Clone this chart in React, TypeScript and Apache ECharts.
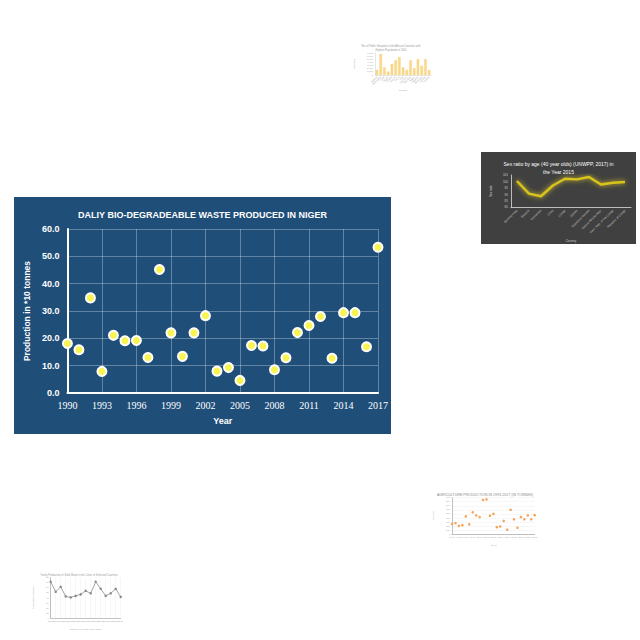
import React, { useEffect, useRef } from "react";
import * as echarts from "echarts";

// ---------- Main chart data ----------
const years = [
  "1990", "1991", "1992", "1993", "1994", "1995", "1996", "1997", "1998", "1999",
  "2000", "2001", "2002", "2003", "2004", "2005", "2006", "2007", "2008", "2009",
  "2010", "2011", "2012", "2013", "2014", "2015", "2016", "2017",
];
const production = [
  18.1, 15.8, 34.8, 7.9, 21.1, 19.1, 19.2, 13.0, 45.2, 22.0,
  13.4, 22.0, 28.3, 8.0, 9.3, 4.6, 17.4, 17.2, 8.5, 12.9,
  22.1, 24.7, 28.0, 12.7, 29.4, 29.4, 16.9, 53.3,
];

// ---------- Thumbnail 1 (bar) ----------
const t1Cats = ["Algeria", "Botswana", "Chad", "Egypt", "Ghana", "Kenya", "Libya", "Mali", "Morocco", "Namibia", "Niger", "Nigeria", "Senegal", "Sudan", "Tunisia"];
const t1Values = [1600, 6700, 2400, 1100, 3550, 4700, 5700, 2400, 1600, 4650, 2150, 5050, 2900, 5050, 1600];

// ---------- Thumbnail 2 (sex ratio line) ----------
const t2Cats = ["Burkina Faso", "Burundi", "Cameroon", "Chad", "Congo", "Gabon", "Equatorial Guinea", "Central African Rep.", "Dem. Rep. of the Congo", "Republic of Congo"];
const t2Values = [100.3, 90.5, 88.4, 96.8, 102.1, 101.6, 103.4, 97.6, 98.9, 99.5];

// ---------- Thumbnail 3 (scatter) ----------
const t3Cats = ["1993", "1994", "1995", "1996", "1997", "1998", "1999", "2000", "2001", "2002", "2003", "2004", "2005", "2006", "2007", "2008", "2009", "2010", "2011", "2012", "2013", "2014", "2015", "2016", "2017"];
const t3Values = [250, 273, 203, 219, 438, 242, 539, 461, 422, 844, 859, 453, 500, 172, 188, 328, 109, 602, 367, 156, 422, 367, 461, 367, 469];

// ---------- Thumbnail 4 (line) ----------
const t4Cats = ["2003", "2004", "2005", "2006", "2007", "2008", "2009", "2010", "2011", "2012", "2013", "2014", "2015", "2016", "2017"];
const t4Values = [72, 52, 62, 43, 41, 44, 47, 54, 49, 72, 58, 44, 49, 58, 42];

const mainOption = {
  animation: false,
  backgroundColor: "#1f4e79",
  textStyle: { fontFamily: "Liberation Sans" },
  title: {
    text: "DALIY BIO-DEGRADEABLE WASTE PRODUCED IN NIGER",
    left: "center",
    top: 8,
    textStyle: { color: "#ffffff", fontSize: 9, fontWeight: "bold", fontFamily: "Liberation Sans" },
  },
  grid: { left: 51, right: 13, top: 32, bottom: 41 },
  xAxis: {
    type: "category",
    data: years,
    boundaryGap: false,
    name: "Year",
    nameLocation: "middle",
    nameGap: 23,
    nameTextStyle: { color: "#ffffff", fontSize: 9, fontWeight: "bold" },
    axisLine: { show: true, lineStyle: { color: "#ffffff", width: 2 } },
    axisTick: { show: false },
    axisLabel: { interval: 2, color: "#ffffff", fontSize: 10, fontFamily: "Liberation Serif", margin: 7 },
    splitLine: { show: true, interval: 2, lineStyle: { color: "rgba(255,255,255,0.3)", width: 1 } },
  },
  yAxis: {
    type: "value",
    min: 0,
    max: 60,
    interval: 10,
    name: "Production in *10 tonnes",
    nameLocation: "middle",
    nameGap: 34,
    nameTextStyle: { color: "#ffffff", fontSize: 8.5, fontWeight: "bold" },
    axisLine: { show: true, lineStyle: { color: "#ffffff", width: 2 } },
    axisTick: { show: false },
    axisLabel: { color: "#ffffff", fontSize: 9, fontWeight: "bold", margin: 8, formatter: (v: number) => v.toFixed(1) },
    splitLine: { show: true, lineStyle: { color: "rgba(255,255,255,0.3)", width: 1 } },
  },
  series: [
    {
      type: "scatter",
      data: production,
      symbol: "circle",
      symbolSize: 9,
      clip: false,
      itemStyle: { color: "#f8f452", borderColor: "#ffffff", borderWidth: 2, opacity: 1 },
    },
  ],
};

const tinyAxisText = { color: "#aaaaaa", fontSize: 2.5 };

const t1Option = {
  animation: false,
  backgroundColor: "#ffffff",
  textStyle: { fontFamily: "Liberation Sans" },
  title: {
    text: "No. of Public Hospitals in the African Countries with\nHighest Population in 2010",
    left: "center",
    top: 2,
    textStyle: { color: "#999999", fontSize: 2.6, fontWeight: "normal", lineHeight: 3.5 },
  },
  grid: { left: 14, right: 6, top: 15, bottom: 21 },
  xAxis: {
    type: "category",
    data: t1Cats,
    name: "Country",
    nameLocation: "middle",
    nameGap: 13,
    nameTextStyle: tinyAxisText,
    axisLine: { lineStyle: { color: "#cccccc", width: 0.5 } },
    axisTick: { show: false },
    axisLabel: { ...tinyAxisText, rotate: 45, interval: 0, margin: 2 },
  },
  yAxis: {
    type: "value",
    min: 0,
    max: 7000,
    interval: 1000,
    name: "Hospitals",
    nameLocation: "middle",
    nameGap: 10,
    nameTextStyle: tinyAxisText,
    axisLine: { show: true, lineStyle: { color: "#cccccc", width: 0.5 } },
    axisLabel: { ...tinyAxisText, margin: 2 },
    splitLine: { show: false },
  },
  series: [
    {
      type: "bar",
      data: t1Values,
      barWidth: "65%",
      itemStyle: { color: "rgba(250,210,120,0.85)", borderColor: "#f2c45a", borderWidth: 0.3 },
    },
  ],
};

const t2Option = {
  animation: false,
  backgroundColor: "#404040",
  textStyle: { fontFamily: "Liberation Sans" },
  title: {
    text: "Sex ratio by age (40 year olds) (UNWPP, 2017) in\nthe Year 2015",
    left: "center",
    top: 3,
    textStyle: { color: "#ffffff", fontSize: 5, fontWeight: "normal", lineHeight: 8 },
  },
  grid: { left: 19, right: 5, top: 23, bottom: 37 },
  xAxis: {
    type: "category",
    data: t2Cats,
    boundaryGap: true,
    name: "Country",
    nameLocation: "middle",
    nameGap: 32,
    nameTextStyle: { color: "#cccccc", fontSize: 3 },
    axisLine: { lineStyle: { color: "#dddddd", width: 0.8 } },
    axisTick: { show: false },
    axisLabel: { color: "#cccccc", fontSize: 3, rotate: 45, interval: 0, margin: 3 },
  },
  yAxis: {
    type: "value",
    min: 80,
    max: 105,
    interval: 5,
    name: "Sex ratio",
    nameLocation: "middle",
    nameGap: 10,
    nameTextStyle: { color: "#cccccc", fontSize: 3 },
    axisLine: { show: true, lineStyle: { color: "#dddddd", width: 0.8 } },
    axisTick: { show: false },
    axisLabel: { color: "#cccccc", fontSize: 3, margin: 3 },
    splitLine: { show: false },
  },
  series: [
    {
      type: "line",
      data: t2Values,
      showSymbol: false,
      lineStyle: { color: "#d8c41a", width: 2.4, shadowColor: "rgba(230,210,40,0.9)", shadowBlur: 5 },
    },
  ],
};

const t3Option = {
  animation: false,
  backgroundColor: "#ffffff",
  textStyle: { fontFamily: "Liberation Sans" },
  title: {
    text: "AGRICULTURE PRODUCTION IN 1993-2017 (IN TONNES)",
    left: "center",
    top: 2,
    textStyle: { color: "#8a8a8a", fontSize: 3.6, fontWeight: "normal" },
  },
  grid: { left: 12.7, right: 11.3, top: 11.7, bottom: 12.7 },
  xAxis: {
    type: "category",
    data: t3Cats,
    boundaryGap: false,
    name: "YEAR",
    nameLocation: "middle",
    nameGap: 7,
    nameTextStyle: tinyAxisText,
    axisLine: { lineStyle: { color: "#999999", width: 0.6 } },
    axisTick: { show: false },
    axisLabel: { ...tinyAxisText, interval: 1, margin: 2 },
  },
  yAxis: {
    type: "value",
    min: 0,
    max: 900,
    interval: 100,
    name: "TONNES",
    nameLocation: "middle",
    nameGap: 9.5,
    nameTextStyle: tinyAxisText,
    axisLine: { show: true, lineStyle: { color: "#999999", width: 0.6 } },
    axisLabel: { ...tinyAxisText, margin: 2 },
    splitLine: { show: true, lineStyle: { color: "#eeeeee", width: 0.5 } },
  },
  series: [
    {
      type: "scatter",
      data: t3Values,
      symbolSize: 2.6,
      clip: false,
      itemStyle: { color: "#f3a35c", opacity: 1 },
    },
  ],
};

const t4Option = {
  animation: false,
  backgroundColor: "#ffffff",
  textStyle: { fontFamily: "Liberation Sans" },
  title: {
    text: "Yearly Production of Solid Waste in the Cities of Selected Countries",
    left: "center",
    top: 3,
    textStyle: { color: "#9a9a9a", fontSize: 2.6, fontWeight: "normal" },
  },
  grid: { left: 13.3, right: 13.3, top: 11.7, bottom: 15 },
  xAxis: {
    type: "category",
    data: t4Cats,
    boundaryGap: false,
    name: "Number of years of the study",
    nameLocation: "middle",
    nameGap: 6,
    nameTextStyle: tinyAxisText,
    axisLine: { lineStyle: { color: "#999999", width: 0.6 } },
    axisTick: { show: false },
    axisLabel: { ...tinyAxisText, interval: 0, margin: 2 },
    splitLine: { show: true, lineStyle: { color: "#eeeeee", width: 0.5 } },
  },
  yAxis: {
    type: "value",
    min: 0,
    max: 80,
    interval: 10,
    name: "Production in tonnes",
    nameLocation: "middle",
    nameGap: 7,
    nameTextStyle: tinyAxisText,
    axisLine: { show: true, lineStyle: { color: "#999999", width: 0.6 } },
    axisLabel: { ...tinyAxisText, margin: 2 },
    splitLine: { show: false },
  },
  series: [
    {
      type: "line",
      data: t4Values,
      symbol: "circle",
      symbolSize: 2.5,
      lineStyle: { color: "#8c8c8c", width: 0.8 },
      itemStyle: { color: "#8c8c8c" },
    },
  ],
};

function Chart({ option, box }: { option: any; box: { left: number; top: number; width: number; height: number } }) {
  const ref = useRef<HTMLDivElement>(null);
  useEffect(() => {
    if (!ref.current) return;
    const chart = echarts.init(ref.current, null, { renderer: "svg" });
    chart.setOption(option);
    return () => chart.dispose();
  }, [option]);
  return <div ref={ref} style={{ position: "absolute", ...box }} />;
}

export default function App() {
  return (
    <div style={{ position: "absolute", left: 0, top: 0, width: 640, height: 640, overflow: "hidden", background: "#ffffff" }}>
      <Chart option={t1Option} box={{ left: 345, top: 38, width: 92, height: 58 }} />
      <Chart option={t2Option} box={{ left: 481, top: 152, width: 155, height: 92 }} />
      <Chart option={mainOption} box={{ left: 14, top: 197, width: 377, height: 237 }} />
      <Chart option={t3Option} box={{ left: 424, top: 486, width: 122, height: 66 }} />
      <Chart option={t4Option} box={{ left: 24, top: 566, width: 110, height: 70 }} />
    </div>
  );
}
